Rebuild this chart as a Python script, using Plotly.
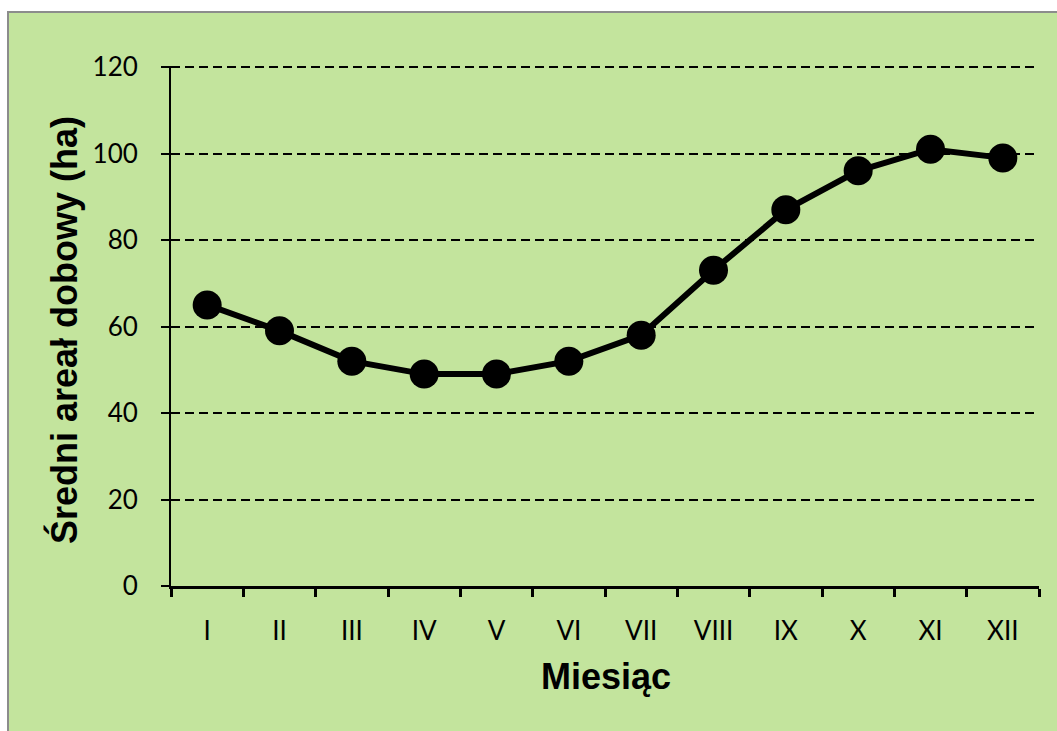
import plotly.graph_objects as go

# Monthly mean daily range (ha)
months = ["I", "II", "III", "IV", "V", "VI", "VII", "VIII", "IX", "X", "XI", "XII"]
areal = [65, 59, 52, 49, 49, 52, 58, 73, 87, 96, 101, 99]
y_ticks = [0, 20, 40, 60, 80, 100, 120]

W, H = 1057, 731
L, R, T, B = 171, 18, 66, 145
pw, ph = W - L - R, H - T - B

def px_x(x):
    return (x - L) / pw

def px_y(y):
    return (H - B - y) / ph

green = "#C3E49D"

fig = go.Figure()
fig.add_trace(go.Scatter(
    x=months, y=areal, mode="lines+markers",
    line=dict(color="black", width=6),
    marker=dict(color="black", size=29),
    showlegend=False, hoverinfo="x+y",
))

fig.update_layout(
    width=W, height=H,
    margin=dict(l=L, r=R, t=T, b=B),
    paper_bgcolor="white",
    plot_bgcolor="rgba(0,0,0,0)",
    font=dict(family="Lato", color="black", size=26),
    xaxis=dict(
        type="category", range=[-0.5, 11.5],
        tickson="boundaries", ticks="outside", ticklen=8, tickwidth=2.5,
        tickcolor="black", showline=True, linecolor="black", linewidth=3,
        showgrid=False, zeroline=False,
        tickfont=dict(family="Lato", size=26), ticklabelstandoff=20,
    ),
    yaxis=dict(
        range=[0, 120.25], tickvals=y_ticks, ticks="outside", ticklen=8,
        tickwidth=2, tickcolor="black", showline=True, linecolor="black",
        linewidth=2, showgrid=True, gridcolor="black", gridwidth=1.5,
        griddash="9px,5px", zeroline=False,
        tickfont=dict(family="Lato", size=26), ticklabelstandoff=18,
    ),
    shapes=[dict(
        type="rect", xref="paper", yref="paper", layer="below",
        x0=px_x(8), x1=px_x(W + 10), y0=px_y(H + 10), y1=px_y(12),
        fillcolor=green, line=dict(color="#8C8C8C", width=2),
    )],
    annotations=[
        dict(text="<b>Miesiąc</b>", xref="paper", yref="paper",
             x=px_x(606), y=px_y(676), showarrow=False,
             xanchor="center", yanchor="middle",
             font=dict(family="Liberation Sans", size=36)),
        dict(text="<b>Średni areał dobowy (ha)</b>", xref="paper", yref="paper",
             x=px_x(64), y=px_y(330), showarrow=False, textangle=-90,
             xanchor="center", yanchor="middle",
             font=dict(family="Liberation Sans", size=36)),
    ],
)

fig.write_html("out.html")
